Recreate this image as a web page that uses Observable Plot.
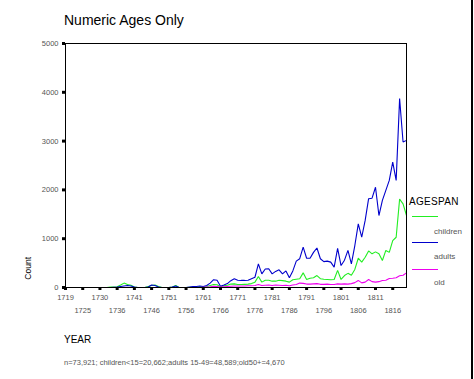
<!DOCTYPE html>
<html><head><meta charset="utf-8">
<script src="https://cdn.jsdelivr.net/npm/d3@7"></script>
<script src="https://cdn.jsdelivr.net/npm/@observablehq/plot@0.6"></script>
<style>
body{margin:0;background:#fff;font-family:"Liberation Sans",Arial,sans-serif;}
#wrap{position:relative;width:474px;height:379px;overflow:hidden;background:#fff;}
#wrap svg{position:absolute;left:0;top:0;}
.t{position:absolute;white-space:nowrap;line-height:1;}
#title{left:64px;top:13px;font-size:14px;color:#000;}
#xlab{left:64px;top:335px;font-size:10px;color:#000;}
#note{left:64px;top:359px;font-size:7.5px;color:#555;}
#ylab{left:24px;top:257px;font-size:8.5px;color:#000;writing-mode:vertical-rl;transform:rotate(180deg);line-height:9px;}
#legtitle{left:409px;top:197px;font-size:10px;color:#000;letter-spacing:0.3px;}
.lline{position:absolute;left:412px;width:26px;height:1px;}
.llab{position:absolute;left:434px;font-size:8px;color:#555;line-height:1;}
#border{position:absolute;left:471px;top:0;width:2px;height:379px;background:#000;}
</style></head><body><div id="wrap"></div>
<script>
const title = "Numeric Ages Only";
const xLabel = "YEAR";
const yLabel = "Count";
const note = "n=73,921; children<15=20,662;adults 15-49=48,589;old50+=4,670";
const legendTitle = "AGESPAN";
const seriesNames = ["children", "adults", "old"];
const seriesColors = ["#22ee22", "#0000cc", "#ee00ee"];

const years = [1719,1721,1722,1723,1724,1725,1726,1727,1728,1729,1730,1731,1732,
 1734,1735,1736,1737,1738,1739,1740,1741,1742,1743,
 1744,1745,1746,1747,1748,1749,1750,1751,1752,1753,
 1754,1755,1756,1757,1758,1759,1760,1761,1762,1763,
 1764,1765,1766,1767,1768,1769,1770,1771,1772,1773,
 1774,1775,1776,1777,1778,1779,1780,1781,1782,1783,
 1784,1785,1786,1787,1788,1789,1790,1791,1792,1793,
 1794,1795,1796,1797,1798,1799,1800,1801,1802,1803,
 1804,1805,1806,1807,1808,1809,1810,1811,1812,1813,
 1814,1815,1816,1817,1818,1819,1820];

const children = [0,0,0,0,0,0,0,0,0,0,0,0,0,
 10,10,15,50,90,60,45,10,0,0,
 0,20,40,50,20,0,0,0,10,40,
 0,0,0,5,10,10,15,15,20,40,
 60,55,15,35,45,70,75,60,60,65,
 70,80,110,225,110,150,150,130,130,150,
 140,130,110,160,170,180,300,165,190,200,
 245,180,170,165,160,165,350,165,245,290,
 250,370,600,520,620,750,690,730,690,553,
 760,720,960,1030,1810,1715,1475];

const adults = [0,0,0,0,0,0,0,0,0,0,0,0,0,
 0,5,10,20,30,40,30,10,0,0,
 0,10,50,40,10,0,0,0,10,30,
 0,0,0,10,20,20,30,20,40,90,
 160,150,25,50,80,140,180,150,145,145,
 150,180,210,485,280,380,385,280,330,362,
 280,340,200,340,540,590,827,600,600,720,
 810,590,530,540,520,417,800,450,560,760,
 485,860,1305,1030,1375,1820,1830,2055,1475,1785,
 1990,2195,2570,2195,3870,2980,3015];

const old = [0,0,0,0,0,0,0,0,0,0,0,0,0,
 0,0,0,0,0,0,0,0,0,0,
 0,0,0,0,0,0,0,0,0,0,
 0,0,0,0,0,0,0,5,10,15,
 25,20,10,15,20,25,30,30,30,30,
 35,35,40,60,40,45,50,40,50,45,
 40,45,35,50,60,90,85,70,70,75,
 80,65,65,70,60,60,75,70,75,70,
 80,100,145,95,110,165,120,110,120,145,
 150,185,190,200,240,250,300];

const xTicksTop = [1719,1730,1741,1751,1761,1771,1781,1791,1801,1811];
const xTicksBottom = [1725,1736,1746,1756,1766,1776,1786,1796,1806,1816];
const yTicks = [0,1000,2000,3000,4000,5000];

const seriesValues = [children, adults, old];
const data = [];
seriesNames.forEach((s, k) => years.forEach((yr, i) => data.push({year: yr, count: seriesValues[k][i], series: s})));

const chart = Plot.plot({
  width: 474, height: 379,
  marginTop: 43, marginBottom: 92, marginLeft: 65, marginRight: 68,
  style: {fontFamily: "Liberation Sans, Arial, sans-serif", background: "transparent"},
  x: {type: "point", domain: years, padding: 0, label: null},
  y: {domain: [0, 5000], label: null},
  color: {domain: seriesNames, range: seriesColors},
  marks: [
    Plot.line(data, {x: "year", y: "count", z: "series", stroke: "series", strokeWidth: 1.1, strokeLinejoin: "miter"}),
    Plot.frame({stroke: "#000", strokeWidth: 1}),
    Plot.axisY({ticks: yTicks, tickSize: 3, strokeWidth: 3, tickPadding: 4, fontSize: 7.5, fill: "#555", stroke: "#000", tickFormat: d => String(d), label: null}),
    Plot.axisX({ticks: [...xTicksTop, ...xTicksBottom], tickSize: 3, strokeWidth: 3, stroke: "#000", tickFormat: () => "", label: null}),
    Plot.axisX({ticks: xTicksTop, tickSize: 0, tickPadding: 7, fontSize: 7.5, fill: "#555", tickFormat: d => String(d), label: null}),
    Plot.axisX({ticks: xTicksBottom, tickSize: 0, tickPadding: 20, fontSize: 7.5, fill: "#555", tickFormat: d => String(d), label: null})
  ]
});

const wrap = document.getElementById("wrap");
wrap.appendChild(chart);
function addText(id, txt) { const d = document.createElement("div"); d.className = "t"; d.id = id; d.textContent = txt; wrap.appendChild(d); }
addText("title", title);
addText("xlab", xLabel);
addText("note", note);
addText("ylab", yLabel);
addText("legtitle", legendTitle);
const lineTops = [216, 242, 269];
const labTops = [228, 253, 279];
seriesNames.forEach((s, k) => {
  const l = document.createElement("div"); l.className = "lline";
  l.style.top = lineTops[k] + "px"; l.style.background = seriesColors[k]; wrap.appendChild(l);
  const t = document.createElement("div"); t.className = "llab"; t.textContent = s;
  t.style.top = labTops[k] + "px"; wrap.appendChild(t);
});
const b = document.createElement("div"); b.id = "border"; wrap.appendChild(b);
</script></body></html>
